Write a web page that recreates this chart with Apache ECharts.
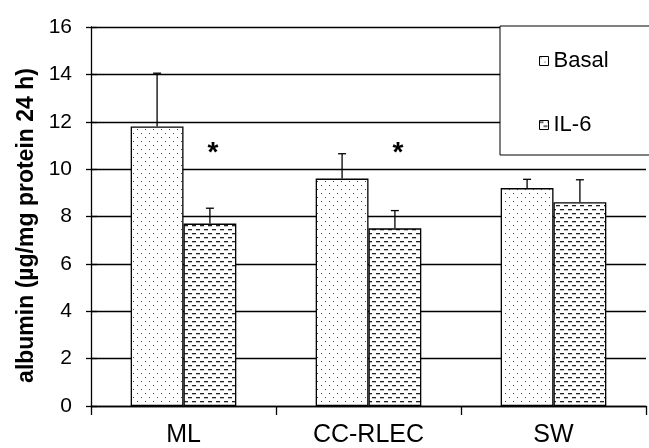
<!DOCTYPE html>
<html>
<head>
<meta charset="utf-8">
<script src="https://cdn.jsdelivr.net/npm/echarts@6/dist/echarts.min.js"></script>
<style>
html,body{margin:0;padding:0;background:#fff;}
#chart{width:649px;height:448px;}
</style>
</head>
<body>
<div id="chart"></div>
<script>
const categories = ['ML', 'CC-RLEC', 'SW'];
const basal = [11.8, 9.6, 9.2];
const basalErr = [2.25, 1.05, 0.37];
const il6 = [7.7, 7.5, 8.6];
const il6Err = [0.65, 0.75, 0.95];
const starValues = [10.9, 10.9, null];
const yTicks = [0, 2, 4, 6, 8, 10, 12, 14, 16];

const FONT = 'Liberation Sans, Arial, sans-serif';
const GAP = 0.429;

function makeDots() {
  const c = document.createElement('canvas');
  c.width = 8; c.height = 8;
  const g = c.getContext('2d');
  g.fillStyle = '#fff'; g.fillRect(0, 0, 8, 8);
  g.fillStyle = '#444';
  g.fillRect(1, 1, 1, 1);
  g.fillRect(5, 5, 1, 1);
  return c;
}
function makeDashes() {
  const c = document.createElement('canvas');
  c.width = 8; c.height = 8;
  const g = c.getContext('2d');
  g.fillStyle = '#fff'; g.fillRect(0, 0, 8, 8);
  g.fillStyle = '#222';
  g.fillRect(0, 1, 4, 1.3);
  g.fillRect(4, 5, 4, 1.3);
  return c;
}
const dotPattern = { image: makeDots(), repeat: 'repeat' };
const dashPattern = { image: makeDashes(), repeat: 'repeat' };

function errRender(offsetSign) {
  return function (params, api) {
    const idx = api.value(0);
    const v = api.value(1);
    const e = api.value(2);
    const band = api.size([1, 0])[0];
    const bw = band * (1 - GAP) / 2;
    const p0 = api.coord([idx, v]);
    const p1 = api.coord([idx, v + e]);
    const x = p0[0] + offsetSign * bw / 2;
    const st = { stroke: '#000', lineWidth: 1.3 };
    return {
      type: 'group',
      children: [
        { type: 'line', shape: { x1: x, y1: p0[1], x2: x, y2: p1[1] }, style: st },
        { type: 'line', shape: { x1: x - 4, y1: p1[1], x2: x + 4, y2: p1[1] }, style: st }
      ]
    };
  };
}

const chart = echarts.init(document.getElementById('chart'), null, { renderer: 'canvas' });
chart.setOption({
  animation: false,
  backgroundColor: '#fff',
  grid: { left: 91, right: 3, top: 27, bottom: 42, containLabel: false },
  legend: {
    left: 500, top: 26, orient: 'vertical', icon: 'rect',
    itemWidth: 9, itemHeight: 9, itemGap: 42,
    padding: [24, 80, 19, 39],
    borderColor: '#000', borderWidth: 1, backgroundColor: '#fff',
    textStyle: { fontSize: 22, color: '#000', fontFamily: FONT },
    data: [
      { name: 'Basal', itemStyle: { color: dotPattern, borderColor: '#000', borderWidth: 1 } },
      { name: 'IL-6', itemStyle: { color: dashPattern, borderColor: '#000', borderWidth: 1 } }
    ]
  },
  xAxis: {
    type: 'category',
    data: categories,
    axisLine: { lineStyle: { color: '#000', width: 1.3 } },
    axisTick: { show: true, length: 9, lineStyle: { color: '#000', width: 1.3 } },
    axisLabel: { fontSize: 25, color: '#000', fontFamily: FONT, margin: 17 },
    splitLine: { show: false }
  },
  yAxis: [{
    type: 'value', min: 0, max: 16, interval: 2,
    name: 'albumin (µg/mg protein 24 h)',
    nameLocation: 'middle', nameGap: 52,
    nameTextStyle: { fontSize: 23, fontWeight: 'bold', color: '#000', fontFamily: FONT, padding: [0, 18, 0, 0] },
    axisLine: { show: true, lineStyle: { color: '#000', width: 1.3 } },
    axisTick: { show: true, length: 5, lineStyle: { color: '#000', width: 1.3 } },
    axisLabel: { fontSize: 21, color: '#000', fontFamily: FONT, margin: 19,
      formatter: v => (yTicks.indexOf(v) >= 0 ? String(v) : '') },
    splitLine: { show: true, lineStyle: { color: '#000', width: 1.3 } }
  }, {
    type: 'value', min: 0, max: 16, interval: 2, position: 'left',
    axisLine: { show: false },
    axisTick: { show: true, inside: true, length: 6, lineStyle: { color: '#000', width: 1.3 } },
    axisLabel: { show: false },
    splitLine: { show: false }
  }],
  series: [
    {
      name: 'Basal', type: 'bar', data: basal, barGap: '0%', barCategoryGap: (GAP * 100) + '%',
      itemStyle: { color: dotPattern, borderColor: '#000', borderWidth: 1.3 }
    },
    {
      name: 'IL-6', type: 'bar', data: il6, barGap: '0%', barCategoryGap: (GAP * 100) + '%',
      itemStyle: { color: dashPattern, borderColor: '#000', borderWidth: 1.3 }
    },
    {
      type: 'custom', z: 5, renderItem: errRender(-1),
      data: basal.map((v, i) => [i, v, basalErr[i]])
    },
    {
      type: 'custom', z: 5, renderItem: errRender(1),
      data: il6.map((v, i) => [i, v, il6Err[i]])
    },
    {
      type: 'custom', z: 5,
      renderItem: function (params, api) {
        const p = api.coord([api.value(0), api.value(1)]);
        const band = api.size([1, 0])[0];
        return {
          type: 'text',
          x: p[0] + band * (1 - GAP) / 4 + 3, y: p[1] + 5,
          style: { text: '*', font: 'bold 28px ' + FONT, fill: '#000', align: 'center', verticalAlign: 'middle' }
        };
      },
      data: starValues.map((v, i) => [i, v]).filter(d => d[1] !== null)
    }
  ]
});
</script>
</body>
</html>
